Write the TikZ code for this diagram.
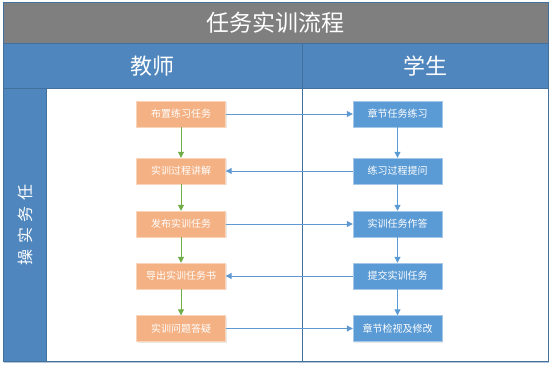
\documentclass[tikz,border=0pt]{standalone}
\usepackage{fontspec}
\newfontfamily\cjk{Noto Sans CJK SC}
\usetikzlibrary{arrows.meta,shadows}
\definecolor{titlegray}{RGB}{127,127,127}
\definecolor{headblue}{RGB}{79,134,189}
\definecolor{frameblue}{RGB}{65,113,156}
\definecolor{taskorange}{RGB}{244,177,131}
\definecolor{stepblue}{RGB}{91,155,213}
\definecolor{linkblue}{RGB}{96,152,210}
\definecolor{flowgreen}{RGB}{112,173,71}
\begin{document}
\begin{tikzpicture}[x=1pt, y=-1pt,
  box/.style={rectangle, draw=#1!55!white, fill=#1, text=white,
    minimum width=89pt, minimum height=26pt, inner sep=0pt,
    font=\cjk\fontsize{10}{12}\selectfont,
    drop shadow={opacity=0.18, shadow xshift=1pt, shadow yshift=-1pt}},
  head/.style={text=white, font=\cjk\fontsize{22}{26}\selectfont},
  link/.style={draw=linkblue, line width=1pt, -{Triangle[length=6pt, width=6pt]}},
  flow/.style={draw=#1, line width=1pt, -{Triangle[length=6pt, width=6pt]}}
]
\useasboundingbox (0,0) rectangle (554,370);
% frame and bands
\fill[white] (3,2.5) rectangle (548,361);
\fill[titlegray] (3,2.5) rectangle (548,43.5);
\fill[headblue] (3,43.5) rectangle (548,88);
\fill[headblue] (3,88) rectangle (46,361);
\draw[frameblue, line width=0.6pt] (3,43.5) -- (548,43.5) (3,88) -- (548,88)
  (46,88) -- (46,361) (302,43.5) -- (302,361);
\draw[frameblue, line width=0.8pt] (3,2.5) rectangle (548,361);
\draw[frameblue!40, line width=1.2pt] (4,362.5) -- (549,362.5);
\node[head, font=\cjk\fontsize{23}{27}\selectfont] (title) at (275.5,23) {任务实训流程};
\node[head] (teacher) at (152.5,66) {教师};
\node[head] (student) at (425,66) {学生};
\node[text=white, rotate=90, font=\cjk\fontsize{16}{18}\selectfont\addfontfeature{LetterSpace=35}]
  (side) at (25,225) {操实务任};
% teacher column
\node[box=taskorange] (t1) at (181,114) {布置练习任务};
\node[box=taskorange] (t2) at (181,171) {实训过程讲解};
\node[box=taskorange] (t3) at (181,224) {发布实训任务};
\node[box=taskorange] (t4) at (181,276) {导出实训任务书};
\node[box=taskorange] (t5) at (181,328.5) {实训问题答疑};
% student column
\node[box=stepblue] (s1) at (397.5,114) {章节任务练习};
\node[box=stepblue] (s2) at (397.5,171) {练习过程提问};
\node[box=stepblue] (s3) at (397.5,224) {实训任务作答};
\node[box=stepblue] (s4) at (397.5,276) {提交实训任务};
\node[box=stepblue] (s5) at (397.5,328.5) {章节检视及修改};
\foreach \a/\b in {1/2,2/3,3/4,4/5} {
  \draw[flow=flowgreen] (t\a) -- (t\b);
  \draw[flow=stepblue] (s\a) -- (s\b);
}
\draw[link] (t1) -- (s1);
\draw[link] (s2) -- (t2);
\draw[link] (t3) -- (s3);
\draw[link] (s4) -- (t4);
\draw[link] (t5) -- (s5);
\end{tikzpicture}
\end{document}
